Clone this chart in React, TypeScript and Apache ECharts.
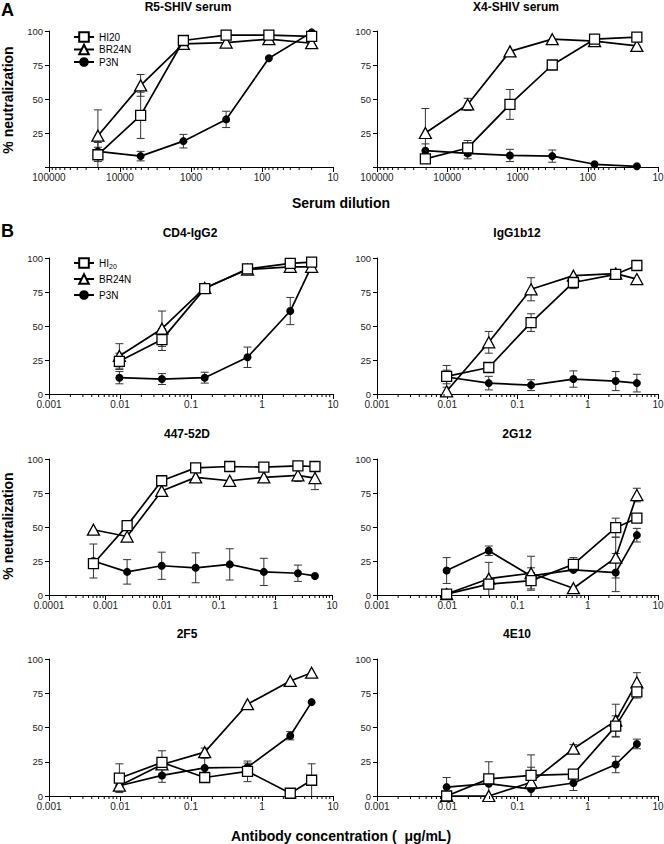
import React, { useEffect, useRef } from 'react';
import * as echarts from 'echarts';

// ---------- x values ----------
const dilutions = [20480, 5120, 1280, 320, 80, 20];
const conc = [0.0098, 0.039, 0.156, 0.625, 2.5, 5];
const conc447 = [0.00061, 0.0024, 0.0098, 0.039, 0.156, 0.625, 2.5, 5];

// ---------- tick labels ----------
const dilutionTicks = ['100000', '10000', '1000', '100', '10'];
const concTicks = ['0.001', '0.01', '0.1', '1', '10'];
const conc447Ticks = ['0.0001', '0.001', '0.01', '0.1', '1', '10'];

const seriesNames = ['HI20', 'BR24N', 'P3N'];

// ---------- R5-SHIV serum ----------
const r5HI20 = [9, 38, 93, 97, 97, 96];
const r5BR24N = [23, 60, 90.5, 91.5, 94, 91];
const r5P3N = [11.5, 8, 19, 35, 80, 99];
const r5HI20Err = [9, 17, 0, 0, 0, 0];
const r5BR24NErr = [19, 8, 0, 0, 0, 0];
const r5P3NErr = [3, 3.5, 5, 6, 0, 0];

// ---------- X4-SHIV serum ----------
const x4HI20 = [6, 14, 46, 75, 94, 95.5];
const x4BR24N = [25, 46, 85, 94, 92.5, 89];
const x4P3N = [12, 10, 8.5, 8, 2, 0.5];
const x4HI20Err = [0, 5.5, 11, 0, 0, 0];
const x4BR24NErr = [18, 4.5, 0, 0, 0, 0];
const x4P3NErr = [5, 4, 4.5, 4.5, 0, 0];

// ---------- CD4-IgG2 ----------
const cd4HI20 = [24, 40, 77.5, 92, 96, 97];
const cd4BR24N = [28, 48, 78, 91.5, 93.5, 93.5];
const cd4P3N = [12, 11, 12, 27, 61, 94];
const cd4HI20Err = [6, 8, 3, 1.5, 0, 0];
const cd4BR24NErr = [9, 13, 3, 1.5, 0, 0];
const cd4P3NErr = [4.5, 4, 4, 7.5, 10, 0];

// ---------- IgG1b12 ----------
const b12HI20 = [13, 19.5, 52.5, 82, 88, 94.5];
const b12BR24N = [2, 38, 77, 87, 88.5, 84.5];
const b12P3N = [12.5, 8, 6.5, 11, 9.5, 8];
const b12HI20Err = [8, 0, 6.5, 4.5, 3.5, 0];
const b12BR24NErr = [0, 8, 8.5, 0, 3, 0];
const b12P3NErr = [5, 5, 4, 6, 7, 6.5];

// ---------- 447-52D ----------
const d447HI20 = [23, 51, 84, 93.5, 94.5, 94, 95, 94.5];
const d447BR24N = [48, 43, 76.5, 86.5, 84, 86.5, 88, 86];
const d447P3N = [25, 17, 21.5, 20, 22.5, 17, 16, 14];
const d447HI20Err = [0, 0, 0, 0, 0, 0, 0, 0];
const d447BR24NErr = [0, 0, 0, 0, 0, 0, 4.5, 8.5];
const d447P3NErr = [12.5, 9, 10, 11, 11.5, 10, 6, 0];

// ---------- 2G12 ----------
const g12HI20 = [0.7, 8, 10.5, 22.5, 49.5, 56.5];
const g12BR24N = [0.7, 12, 16, 5, 27.5, 73.5];
const g12P3N = [18, 32.5, 14, 18.5, 16.5, 44];
const g12HI20Err = [0, 0, 6, 5, 7, 2.5];
const g12BR24NErr = [0, 12, 12.5, 0, 15, 5];
const g12P3NErr = [9.5, 3.5, 6, 0, 14, 5];

// ---------- 2F5 ----------
const f5HI20 = [13, 24.5, 13.5, 18, 2, 11.5];
const f5BR24N = [7.5, 23, 32, 67, 84, 90];
const f5P3N = [7.5, 15, 20.5, 21, 44, 68.5];
const f5HI20Err = [10.5, 8.5, 2, 7.5, 0, 12];
const f5BR24NErr = [0, 0, 3, 0, 0, 0];
const f5P3NErr = [4, 5, 7, 3, 3, 0];

// ---------- 4E10 ----------
const e10HI20 = [0, 12.5, 15, 16, 51, 76];
const e10BR24N = [0, 0, 10, 34.5, 55, 83];
const e10P3N = [6.5, 9, 5, 9.5, 23, 38];
const e10HI20Err = [0, 12.5, 15, 0, 7.5, 4.5];
const e10BR24NErr = [0, 0, 11, 3, 12, 7];
const e10P3NErr = [7, 0, 0, 5.5, 6, 3.5];

const FONT = '"Liberation Sans", Arial, Helvetica, sans-serif';

type Panel = {
  title: string;
  x: number[];
  ticks: string[];
  inverse: boolean;
  hideZero: boolean;
  vals: number[][];
  errs: number[][];
  grid: { left: number; top: number; width: number; height: number };
  titleX: number;
  titleY: number;
};

const panels: Panel[] = [
  { title: 'R5-SHIV serum', x: dilutions, ticks: dilutionTicks, inverse: true, hideZero: true,
    vals: [r5HI20, r5BR24N, r5P3N], errs: [r5HI20Err, r5BR24NErr, r5P3NErr],
    grid: { left: 49, top: 31, width: 284, height: 136 }, titleX: 188, titleY: 6.5 },
  { title: 'X4-SHIV serum', x: dilutions, ticks: dilutionTicks, inverse: true, hideZero: true,
    vals: [x4HI20, x4BR24N, x4P3N], errs: [x4HI20Err, x4BR24NErr, x4P3NErr],
    grid: { left: 377, top: 31, width: 281, height: 136 }, titleX: 516, titleY: 6.5 },
  { title: 'CD4-IgG2', x: conc, ticks: concTicks, inverse: false, hideZero: false,
    vals: [cd4HI20, cd4BR24N, cd4P3N], errs: [cd4HI20Err, cd4BR24NErr, cd4P3NErr],
    grid: { left: 49, top: 258, width: 284, height: 136 }, titleX: 190, titleY: 232.5 },
  { title: 'IgG1b12', x: conc, ticks: concTicks, inverse: false, hideZero: false,
    vals: [b12HI20, b12BR24N, b12P3N], errs: [b12HI20Err, b12BR24NErr, b12P3NErr],
    grid: { left: 377, top: 258, width: 281, height: 136 }, titleX: 517, titleY: 232.5 },
  { title: '447-52D', x: conc447, ticks: conc447Ticks, inverse: false, hideZero: false,
    vals: [d447HI20, d447BR24N, d447P3N], errs: [d447HI20Err, d447BR24NErr, d447P3NErr],
    grid: { left: 49, top: 459, width: 283, height: 136 }, titleX: 187, titleY: 433.5 },
  { title: '2G12', x: conc, ticks: concTicks, inverse: false, hideZero: false,
    vals: [g12HI20, g12BR24N, g12P3N], errs: [g12HI20Err, g12BR24NErr, g12P3NErr],
    grid: { left: 377, top: 459, width: 281, height: 136 }, titleX: 517, titleY: 433.5 },
  { title: '2F5', x: conc, ticks: concTicks, inverse: false, hideZero: false,
    vals: [f5HI20, f5BR24N, f5P3N], errs: [f5HI20Err, f5BR24NErr, f5P3NErr],
    grid: { left: 49, top: 659, width: 284, height: 137 }, titleX: 187, titleY: 633.5 },
  { title: '4E10', x: conc, ticks: concTicks, inverse: false, hideZero: false,
    vals: [e10HI20, e10BR24N, e10P3N], errs: [e10HI20Err, e10BR24NErr, e10P3NErr],
    grid: { left: 377, top: 659, width: 281, height: 137 }, titleX: 517, titleY: 633.5 },
];

// minor log ticks (2..9 x 10^k) between the decade tick labels of an axis
function minorTicks(ticks: string[]): number[] {
  const exps = ticks.map((t) => Math.round(Math.log10(parseFloat(t))));
  const lo = Math.min(...exps);
  const hi = Math.max(...exps);
  const out: number[] = [];
  for (let e = lo; e < hi; e++) {
    for (let m = 2; m <= 9; m++) out.push(parseFloat((m * Math.pow(10, e)).toPrecision(3)));
  }
  return out;
}

const symbolFor = ['rect', 'triangle', 'circle'];
const symbolSizeFor: any[] = [10, [12, 11], 8];

export default function App() {
  const ref = useRef<HTMLDivElement>(null);
  useEffect(() => {
    if (!ref.current) return;
    const chart = echarts.init(ref.current, undefined, { renderer: 'svg' });

    const grids: any[] = [];
    const xAxes: any[] = [];
    const yAxes: any[] = [];
    const series: any[] = [];

    panels.forEach((p, i) => {
      grids.push({ ...p.grid, containLabel: false, outerBoundsMode: 'none' });
      const tv = p.ticks.map((t) => parseFloat(t));
      xAxes.push({
        type: 'log',
        logBase: 10,
        gridIndex: i,
        min: Math.min(...tv),
        max: Math.max(...tv),
        inverse: p.inverse,
        axisLine: { onZero: false, lineStyle: { color: '#000', width: 1 } },
        axisTick: { show: true, length: 5, lineStyle: { color: '#000', width: 1 } },
        minorTick: { show: false },
        splitLine: { show: false },
        axisLabel: {
          fontSize: 10,
          fontFamily: FONT,
          color: '#222',
          margin: 5,
          showMinLabel: true,
          showMaxLabel: true,
          hideOverlap: false,
          interval: 0,
          formatter: (v: number) => {
            const hit = p.ticks.find((t) => Math.abs(Math.log10(parseFloat(t)) - Math.log10(v)) < 0.01);
            return hit ?? '';
          },
        },
      });
      yAxes.push({
        type: 'value',
        gridIndex: i,
        min: 0,
        max: 100,
        interval: 25,
        axisLine: { show: true, onZero: false, lineStyle: { color: '#000', width: 1 } },
        axisTick: { show: true, length: 4, lineStyle: { color: '#000', width: 1 } },
        splitLine: { show: false },
        axisLabel: {
          fontSize: 9.5,
          fontFamily: FONT,
          color: '#222',
          margin: 6,
          formatter: (v: number) => (p.hideZero && v === 0 ? '' : String(v)),
        },
      });

      // minor ticks
      series.push({
        type: 'custom',
        xAxisIndex: i,
        yAxisIndex: i,
        clip: false,
        silent: true,
        z: 5,
        encode: { x: 0, y: 1 },
        data: minorTicks(p.ticks).map((v) => [v, 0]),
        renderItem: (params: any, api: any) => {
          const pt = api.coord([api.value(0), 0]);
          return {
            type: 'line',
            shape: { x1: pt[0], y1: pt[1], x2: pt[0], y2: pt[1] + 3 },
            style: { stroke: '#000', lineWidth: 1 },
          };
        },
      });

      // error bars
      const errData: any[] = [];
      p.vals.forEach((vals, s) => {
        vals.forEach((y, j) => {
          const e = p.errs[s][j];
          if (e > 0) errData.push([p.x[j], y, e]);
        });
      });
      series.push({
        type: 'custom',
        xAxisIndex: i,
        yAxisIndex: i,
        clip: false,
        silent: true,
        z: 2,
        encode: { x: 0, y: 1 },
        data: errData,
        renderItem: (params: any, api: any) => {
          const x = api.value(0);
          const y = api.value(1);
          const e = api.value(2);
          const lo = Math.max(0, y - e);
          const hi = y + e;
          const top = api.coord([x, hi]);
          const bot = api.coord([x, lo]);
          const cap = 4;
          const st = { stroke: '#333', lineWidth: 1 };
          const children: any[] = [
            { type: 'line', shape: { x1: top[0], y1: top[1], x2: bot[0], y2: bot[1] }, style: st },
            { type: 'line', shape: { x1: top[0] - cap, y1: top[1], x2: top[0] + cap, y2: top[1] }, style: st },
          ];
          if (lo > 0) {
            children.push({ type: 'line', shape: { x1: bot[0] - cap, y1: bot[1], x2: bot[0] + cap, y2: bot[1] }, style: st });
          }
          return { type: 'group', children };
        },
      });

      // data lines
      p.vals.forEach((vals, s) => {
        series.push({
          type: 'line',
          name: seriesNames[s],
          xAxisIndex: i,
          yAxisIndex: i,
          z: 3 + (2 - s),
          data: vals.map((v, j) => [p.x[j], v]),
          symbol: symbolFor[s],
          symbolSize: symbolSizeFor[s],
          showAllSymbol: true,
          lineStyle: { color: '#000', width: 1.7 },
          itemStyle: {
            color: s === 2 ? '#000' : '#fff',
            borderColor: '#000',
            borderWidth: s === 2 ? 0 : 1.3,
          },
          emphasis: { disabled: true },
        });
      });
    });

    const textStyle = (extra: any) => ({
      fontFamily: FONT,
      fill: '#000',
      ...extra,
    });

    const graphic: any[] = [
      { type: 'text', x: 1, y: 9.5, style: textStyle({ text: 'A', fontSize: 18, fontWeight: 'bold', align: 'left', verticalAlign: 'middle', textAlign: 'left', textVerticalAlign: 'middle' }) },
      { type: 'text', x: 1, y: 230.5, style: textStyle({ text: 'B', fontSize: 18, fontWeight: 'bold', align: 'left', verticalAlign: 'middle', textAlign: 'left', textVerticalAlign: 'middle' }) },
      { type: 'text', x: 341, y: 203, style: textStyle({ text: 'Serum dilution', fontSize: 14, fontWeight: 'bold', align: 'center', verticalAlign: 'middle', textAlign: 'center', textVerticalAlign: 'middle' }) },
      { type: 'text', x: 341, y: 836, style: textStyle({ text: 'Antibody concentration (  \u03bcg/mL)', fontSize: 14, fontWeight: 'bold', align: 'center', verticalAlign: 'middle', textAlign: 'center', textVerticalAlign: 'middle' }) },
      { type: 'text', x: 8, y: 100, rotation: Math.PI / 2, style: textStyle({ text: '% neutralization', fontSize: 14, fontWeight: 'bold', align: 'center', verticalAlign: 'middle', textAlign: 'center', textVerticalAlign: 'middle' }) },
      { type: 'text', x: 8, y: 526, rotation: Math.PI / 2, style: textStyle({ text: '% neutralization', fontSize: 14, fontWeight: 'bold', align: 'center', verticalAlign: 'middle', textAlign: 'center', textVerticalAlign: 'middle' }) },
    ];
    panels.forEach((p) => {
      graphic.push({
        type: 'text',
        x: p.titleX,
        y: p.titleY,
        style: textStyle({ text: p.title, fontSize: 12, fontWeight: 'bold', align: 'center', verticalAlign: 'middle', textAlign: 'center', textVerticalAlign: 'middle' }),
      });
    });

    const legendBase = {
      data: seriesNames,
      orient: 'vertical',
      left: 73,
      padding: 0,
      itemWidth: 20,
      itemHeight: 12,
      selectedMode: false,
    };

    chart.setOption({
      animation: false,
      backgroundColor: '#fff',
      grid: grids,
      xAxis: xAxes,
      yAxis: yAxes,
      series,
      graphic,
      legend: [
        {
          ...legendBase,
          top: 31,
          itemGap: 0.5,
          textStyle: { fontSize: 10, fontFamily: FONT, color: '#000', lineHeight: 12 },
        },
        {
          ...legendBase,
          top: 256,
          itemGap: 2,
          formatter: (n: string) => (n === 'HI20' ? '{a|HI}{s|20}' : n),
          textStyle: {
            fontSize: 10,
            fontFamily: FONT,
            color: '#000',
            lineHeight: 14,
            rich: {
              a: { fontSize: 10, fontFamily: FONT, color: '#000', lineHeight: 14 },
              s: { fontSize: 7, fontFamily: FONT, color: '#000', lineHeight: 14, verticalAlign: 'bottom', padding: [6, 0, 0, 0] },
            },
          },
        },
      ],
    });

    return () => chart.dispose();
  }, []);

  return (
    <div
      ref={ref}
      style={{ position: 'absolute', left: 0, top: 0, width: 664, height: 844, background: '#fff' }}
    />
  );
}
